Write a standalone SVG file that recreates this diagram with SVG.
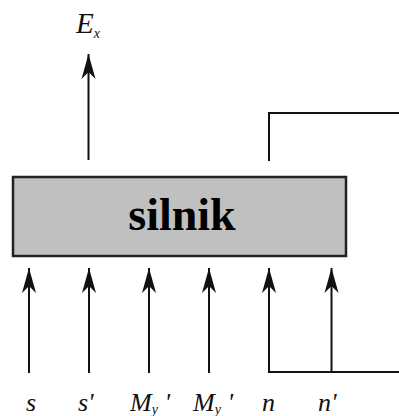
<svg xmlns="http://www.w3.org/2000/svg" width="399" height="416" viewBox="0 0 399 416">
<defs>
<style>
.ln{stroke:#111;stroke-width:2;fill:none}
.lbl{font-family:"Liberation Serif",serif;font-style:italic;font-size:26px;fill:#111}
.sub{font-size:14px}
</style>
<marker id="ah" markerUnits="userSpaceOnUse" markerWidth="28" markerHeight="16" viewBox="-26 -8 28 16" refX="0" refY="0" orient="auto">
<path d="M0,0 L-25,-7 L-18,0 L-25,7 Z" fill="#111"/>
</marker>
</defs>
<rect width="399" height="416" fill="#fff"/>
<g id="connectors">
<path class="ln" d="M88.5,160 V54" marker-end="url(#ah)"/>
<path class="ln" d="M269,161 V113 H399"/>
<path class="ln" d="M29,373 V268" marker-end="url(#ah)"/>
<path class="ln" d="M89,373 V268" marker-end="url(#ah)"/>
<path class="ln" d="M149,373 V268" marker-end="url(#ah)"/>
<path class="ln" d="M209,373 V268" marker-end="url(#ah)"/>
<path class="ln" d="M269,373 V268" marker-end="url(#ah)"/>
<path class="ln" d="M331.5,372 V268" marker-end="url(#ah)"/>
<path class="ln" d="M269,372 H399"/>
</g>
<g id="silnik">
<rect x="13" y="177" width="333" height="79" fill="#c0c0c0" stroke="#222" stroke-width="2.5"/>
<text x="182" y="230" text-anchor="middle" font-family="Liberation Serif,serif" font-weight="bold" font-size="46" fill="#000">silnik</text>
</g>
<g id="Ex"><text class="lbl" x="76" y="33" style="font-size:29px">E<tspan class="sub" dy="5">x</tspan></text></g>
<g id="s"><text class="lbl" x="26" y="411">s</text></g>
<g id="s1"><text class="lbl" x="78" y="411">s'</text></g>
<g id="My1"><text class="lbl" x="130" y="411">M<tspan class="sub" dy="3">y</tspan><tspan dy="-3"> '</tspan></text></g>
<g id="My2"><text class="lbl" x="193" y="411">M<tspan class="sub" dy="3">y</tspan><tspan dy="-3"> '</tspan></text></g>
<g id="n"><text class="lbl" x="262" y="411">n</text></g>
<g id="n1"><text class="lbl" x="318" y="411">n'</text></g>
</svg>
